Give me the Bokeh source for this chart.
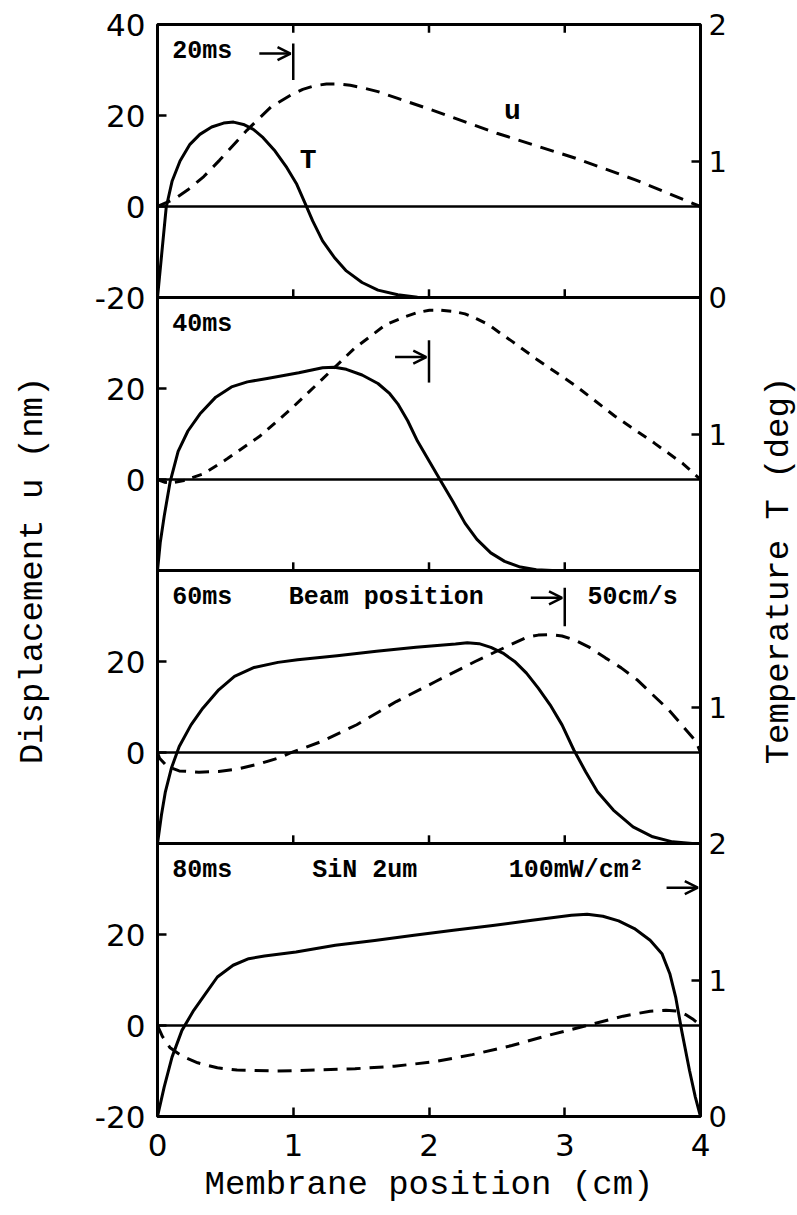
import math
from bokeh.plotting import figure
from bokeh.layouts import row
from bokeh.models import Range1d, LinearAxis, FixedTicker, Arrow, OpenHead
from bokeh.core.properties import value
from bokeh.embed import file_html
from bokeh.resources import INLINE

# ---------------- data ----------------
panel_times = ["20ms", "40ms", "60ms", "80ms"]

# 20 ms
x_T_20 = [0, 0.064, 0.108, 0.166, 0.239, 0.312, 0.399, 0.487, 0.560, 0.633, 0.706, 0.778, 0.866, 0.953,
          1.026, 1.085, 1.143, 1.216, 1.303, 1.391, 1.507, 1.624, 1.770, 1.915, 2.0, 4.0]
T_20 = [0, 0.659, 0.854, 1.0, 1.122, 1.195, 1.249, 1.278, 1.285, 1.268, 1.232, 1.171, 1.073, 0.951,
        0.829, 0.695, 0.561, 0.415, 0.293, 0.195, 0.110, 0.054, 0.020, 0.002, 0, 0]
x_u_20 = [0, 0.122, 0.224, 0.341, 0.458, 0.66, 0.837, 0.983, 1.070, 1.157, 1.245, 1.332, 1.420, 1.507,
          1.624, 1.770, 2.06, 2.5, 3.08, 3.52, 4.0]
u_20 = [0, 1.6, 3.66, 6.58, 10.2, 16.8, 21.9, 24.5, 25.75, 26.55, 26.92, 26.92, 26.63, 26.12,
        25.24, 23.77, 20.8, 16.1, 10.6, 5.85, 0]

# 40 ms
x_T_40 = [0, 0.020, 0.050, 0.093, 0.152, 0.224, 0.312, 0.429, 0.545, 0.662, 0.808, 1.041, 1.216, 1.303,
          1.391, 1.507, 1.624, 1.711, 1.770, 1.843, 1.915, 2.003, 2.090, 2.178, 2.265, 2.353, 2.455,
          2.557, 2.673, 2.790, 2.907, 4.0]
T_40 = [0, 0.203, 0.402, 0.650, 0.873, 1.022, 1.146, 1.270, 1.345, 1.382, 1.407, 1.449, 1.486, 1.489,
        1.474, 1.432, 1.370, 1.295, 1.221, 1.097, 0.948, 0.799, 0.650, 0.501, 0.347, 0.228, 0.129,
        0.067, 0.025, 0.005, 0, 0]
x_u_40 = [0, 0.05, 0.11, 0.195, 0.34, 0.516, 0.75, 0.98, 1.216, 1.45, 1.68, 1.799, 1.915, 2.003, 2.090,
          2.178, 2.265, 2.353, 2.440, 2.528, 2.615, 2.79, 3.08, 3.37, 3.66, 3.87, 4.0]
u_40 = [0, -0.6, -0.7, -0.2, 1.26, 4.6, 9.44, 15.4, 22.1, 28.8, 34.0, 35.5, 36.7, 37.2, 37.2,
        36.95, 36.4, 35.3, 34.0, 32.1, 30.3, 26.5, 20.6, 13.9, 8.0, 3.5, 0]

# 60 ms
x_T_60 = [0, 0.029, 0.058, 0.102, 0.160, 0.247, 0.334, 0.451, 0.567, 0.712, 0.887, 1.032, 1.323, 1.613,
          1.904, 2.195, 2.282, 2.369, 2.456, 2.544, 2.631, 2.718, 2.805, 2.892, 2.980, 3.067, 3.154,
          3.241, 3.358, 3.503, 3.648, 3.794, 3.939, 4.0]
T_60 = [0, 0.208, 0.379, 0.551, 0.710, 0.869, 0.991, 1.126, 1.224, 1.290, 1.327, 1.346, 1.376, 1.408,
        1.437, 1.461, 1.471, 1.464, 1.437, 1.395, 1.334, 1.248, 1.138, 1.016, 0.869, 0.685, 0.526,
        0.379, 0.245, 0.122, 0.049, 0.012, 0, 0]
x_u_60 = [0, 0.015, 0.073, 0.160, 0.305, 0.451, 0.596, 0.741, 0.887, 0.974, 1.206, 1.468, 1.759, 2.049,
          2.340, 2.573, 2.718, 2.805, 2.892, 2.980, 3.067, 3.183, 3.299, 3.416, 3.532, 3.648, 3.765,
          3.881, 3.968, 4.0]
u_60 = [0, -1.25, -3.1, -4.04, -4.33, -4.18, -3.6, -2.57, -1.25, -0.15, 2.4, 6.1, 11.2, 15.6,
        20.0, 23.3, 25.3, 25.8, 25.9, 25.6, 24.8, 23.1, 20.8, 18.6, 16.0, 12.7, 9.4,
        5.4, 2.4, 0]

# 80 ms
x_T_80 = [0, 0.049, 0.107, 0.180, 0.267, 0.354, 0.441, 0.557, 0.672, 0.788, 1.020, 1.31, 1.6, 1.89,
          2.18, 2.47, 2.76, 3.049, 3.165, 3.281, 3.397, 3.513, 3.629, 3.716, 3.774, 3.817, 3.861,
          3.919, 3.962, 4.0]
T_80 = [0, 0.215, 0.435, 0.631, 0.778, 0.900, 1.022, 1.108, 1.156, 1.176, 1.205, 1.254, 1.29, 1.328,
        1.364, 1.40, 1.437, 1.474, 1.482, 1.467, 1.433, 1.377, 1.291, 1.193, 1.046, 0.875, 0.631,
        0.337, 0.142, 0]
x_u_80 = [0, 0.035, 0.093, 0.180, 0.296, 0.441, 0.586, 0.875, 1.165, 1.455, 1.745, 2.03, 2.32, 2.61,
          2.90, 3.19, 3.43, 3.629, 3.745, 3.832, 3.890, 3.948, 4.0]
u_80 = [0, -2.35, -4.9, -6.75, -8.2, -9.3, -9.8, -10.0, -9.8, -9.5, -8.95, -8.0, -6.4, -4.4,
        -2.0, 0.2, 2.05, 3.15, 3.37, 3.15, 2.4, 1.3, 0]

# beam position at each time (50 cm/s)
beam_x = [1.0, 2.0, 3.0, 4.0]

# axis ticks / labels
x_ticks = [0, 1, 2, 3, 4]
u_tick_labels = [[40, 20, 0, -20], [20, 0], [20, 0], [20, 0, -20]]
T_tick_labels = [[2, 1, 0], [1], [1], [2, 1, 0]]

X_MIN, X_MAX = 0, 4
U_MIN, U_MAX = -20, 40
T_MIN, T_MAX = 0, 2

panels = [
    (x_T_20, T_20, x_u_20, u_20),
    (x_T_40, T_40, x_u_40, u_40),
    (x_T_60, T_60, x_u_60, u_60),
    (x_T_80, T_80, x_u_80, u_80),
]

# ---------------- styling / annotation placement ----------------
N = len(panels)
U_SPAN = U_MAX - U_MIN
T_SPAN = T_MAX - T_MIN
TICK_U = 1.8
TICK_FONT = "DejaVu Sans"
LABEL_FONT = "Liberation Mono"
TOP, BOTTOM = 24, 99

p = figure(width=758, height=1215, output_backend="svg", toolbar_location=None,
           x_range=Range1d(X_MIN, X_MAX),
           y_range=Range1d(U_MAX - N * U_SPAN, U_MAX),
           min_border_left=157, min_border_right=58, min_border_top=TOP, min_border_bottom=BOTTOM)
p.background_fill_color = "white"
p.border_fill_color = "white"
p.outline_line_color = "black"
p.outline_line_width = 3
p.grid.visible = False

# stacked ranges for every panel
for k in range(N):
    p.extra_y_ranges[f"u{k}"] = Range1d(U_MAX + k * U_SPAN - N * U_SPAN, U_MAX + k * U_SPAN)
    p.extra_y_ranges[f"T{k}"] = Range1d(T_MAX + k * T_SPAN - N * T_SPAN, T_MAX + k * T_SPAN)
p.extra_y_ranges["Tstack"] = Range1d(T_MAX - N * T_SPAN, T_MAX)

# left axis (displacement)
left_pos, left_over = [], {}
for k, labs in enumerate(u_tick_labels):
    for v in labs:
        pos = v - k * U_SPAN
        left_pos.append(pos)
        left_over[pos] = str(v)
ya = p.yaxis[0]
ya.ticker = FixedTicker(ticks=left_pos)
ya.major_label_overrides = left_over
ya.axis_label = "Displacement u (nm)"

# right axis (temperature)
right_pos, right_over = [], {}
for k, labs in enumerate(T_tick_labels):
    for v in labs:
        pos = v - k * T_SPAN
        right_pos.append(pos)
        right_over[pos] = str(v)
ra = LinearAxis(y_range_name="Tstack", ticker=FixedTicker(ticks=right_pos),
                major_label_overrides=right_over)
p.add_layout(ra, "right")

xa = p.xaxis[0]
xa.ticker = FixedTicker(ticks=x_ticks)
xa.axis_label = "Membrane position (cm)"

for ax in (xa, ya, ra):
    ax.axis_line_color = None
    ax.major_tick_in = 9
    ax.major_tick_out = 0
    ax.major_tick_line_width = 2.5
    ax.major_tick_line_color = "black"
    ax.minor_tick_line_color = None
    ax.major_label_text_font = TICK_FONT
    ax.major_label_text_font_size = "31px"
    ax.major_label_text_color = "black"
    ax.axis_label_text_font = LABEL_FONT
    ax.axis_label_text_font_size = "34px"
    ax.axis_label_text_font_style = "normal"
    ax.axis_label_text_color = "black"

ya.major_label_standoff = 12
ya.axis_label_standoff = 40
ra.major_label_standoff = 8
ra.major_label_text_font_size = "29px"
xa.major_label_standoff = 17
xa.axis_label_standoff = 7

dash_styles = ["14 9", "10 8", "14 9", "14 9"]
arrow_u = [33.6, 26.9, 34.0, 30.3]
bar_u = [(27.8, 35.8), (21.3, 30.6), (27.75, 36.2), None]
time_label_x = 0.33
time_label_u = 34

for k, (xT, T, xu, u) in enumerate(panels):
    rn_u, rn_T = f"u{k}", f"T{k}"
    # zero line
    p.segment(x0=[X_MIN], x1=[X_MAX], y0=[0], y1=[0], y_range_name=rn_u,
              line_color="black", line_width=2.5)
    if k < N - 1:
        # panel separator + inner ticks
        p.segment(x0=[X_MIN], x1=[X_MAX], y0=[U_MIN], y1=[U_MIN], y_range_name=rn_u,
                  line_color="black", line_width=3)
        inner = x_ticks[1:-1]
        p.segment(x0=inner, x1=inner, y0=[U_MIN] * len(inner), y1=[U_MIN + TICK_U] * len(inner),
                  y_range_name=rn_u, line_color="black", line_width=2.5)
    if k == 0:
        inner = x_ticks[1:-1]
        p.segment(x0=inner, x1=inner, y0=[U_MAX] * len(inner), y1=[U_MAX - TICK_U] * len(inner),
                  y_range_name=rn_u, line_color="black", line_width=2.5)
    # curves
    p.line(xT, T, y_range_name=rn_T, line_color="black", line_width=3, line_join="round")
    p.line(xu, u, y_range_name=rn_u, line_color="black", line_width=3, line_dash=dash_styles[k])

    # time label
    p.text(x=[time_label_x], y=[time_label_u], text=[panel_times[k]], y_range_name=rn_u,
           text_font=value(LABEL_FONT), text_font_style="bold", text_font_size="25px",
           text_align="center", text_baseline="middle", text_color="black")

    # beam position arrow and bar
    bx = beam_x[k]
    p.add_layout(Arrow(x_start=bx - 0.25, x_end=bx - 0.02, y_start=arrow_u[k], y_end=arrow_u[k],
                       y_range_name=rn_u, line_width=2.5, line_color="black",
                       end=OpenHead(size=13, line_width=2.5, line_color="black")))
    if bar_u[k] is not None:
        p.segment(x0=[bx], x1=[bx], y0=[bar_u[k][0]], y1=[bar_u[k][1]], y_range_name=rn_u,
                  line_color="black", line_width=2.5)

# extra texts
p.text(x=[2.615, 1.11], y=[20.8, 10.2], text=["u", "T"], y_range_name="u0",
       text_font=value(LABEL_FONT), text_font_style="bold", text_font_size="28px",
       text_align="center", text_baseline="middle", text_color="black")
p.text(x=[1.685, 3.50], y=[34, 34], text=["Beam position", "50cm/s"], y_range_name="u2",
       text_font=value(LABEL_FONT), text_font_style="bold", text_font_size="25px",
       text_align="center", text_baseline="middle", text_color="black")
p.text(x=[1.527, 3.084], y=[34, 34], text=["SiN 2um", "100mW/cm²"], y_range_name="u3",
       text_font=value(LABEL_FONT), text_font_style="bold", text_font_size="25px",
       text_align="center", text_baseline="middle", text_color="black")

# ---- narrow side strip that carries the temperature axis title (reads bottom to top) ----
p2 = figure(width=39, height=1215, output_backend="svg", toolbar_location=None,
            x_range=Range1d(0, 1), y_range=Range1d(0, 1),
            min_border_left=38, min_border_right=0, min_border_top=TOP, min_border_bottom=BOTTOM)
p2.outline_line_color = None
p2.grid.visible = False
p2.xaxis.visible = False
p2.background_fill_color = "white"
p2.border_fill_color = "white"
t_ax = p2.yaxis[0]
t_ax.axis_label = "Temperature T (deg)"
t_ax.axis_label_text_font = LABEL_FONT
t_ax.axis_label_text_font_size = "34px"
t_ax.axis_label_text_font_style = "normal"
t_ax.axis_label_text_color = "black"
t_ax.axis_label_standoff = 0
t_ax.axis_line_color = None
t_ax.major_tick_line_color = None
t_ax.minor_tick_line_color = None
t_ax.major_tick_in = 0
t_ax.major_tick_out = 0
t_ax.major_label_text_font_size = "0px"
t_ax.major_label_standoff = 0
t_ax.ticker = FixedTicker(ticks=[])

layout = row(p, p2, spacing=0)
open("out.html", "w").write(file_html(layout, INLINE))
